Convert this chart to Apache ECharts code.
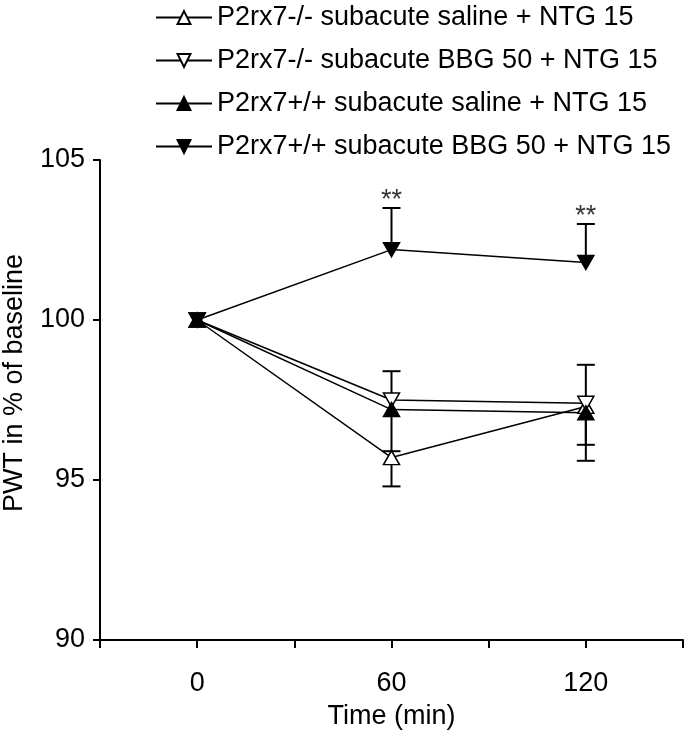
<!DOCTYPE html>
<html>
<head>
<meta charset="utf-8">
<script src="https://cdn.jsdelivr.net/npm/echarts@6/dist/echarts.min.js"></script>
<style>
html,body{margin:0;padding:0;background:#fff;}
#chart{width:685px;height:736px;}
</style>
</head>
<body>
<div id="chart"></div>
<script>
// ---- data ----
const times = [0, 60, 120];
const xLabelValues = [0, 60, 120];
const seriesNames = [
  'P2rx7-/- subacute saline + NTG 15',
  'P2rx7-/- subacute BBG 50 + NTG 15',
  'P2rx7+/+ subacute saline + NTG 15',
  'P2rx7+/+ subacute BBG 50 + NTG 15'
];
const koSaline = [100, 95.7, 97.3];
const koBBG = [100, 97.5, 97.4];
const wtSaline = [100, 97.2, 97.1];
const wtBBG = [100, 102.2, 101.8];
// signed SEM: positive = bar drawn upward, negative = downward
const koSalineErr = [0, -0.9, -1.7];
const koBBGErr = [0, 0.9, 1.2];
const wtSalineErr = [0, -1.3, -1.0];
const wtBBGErr = [0, 1.3, 1.2];
const sigTimes = [60, 120];
const sigLabels = ['**', '**'];

const FONT = 'Liberation Sans, Arial, sans-serif';
const values = [koSaline, koBBG, wtSaline, wtBBG];
const errs = [koSalineErr, koBBGErr, wtSalineErr, wtBBGErr];
const upTri = 'triangle';
const downTri = 'path://M0,0 L10,0 L5,9 Z';
const symbols = [upTri, downTri, upTri, downTri];
const fills = ['#ffffff', '#ffffff', '#000000', '#000000'];

const chart = echarts.init(document.getElementById('chart'));

const series = [];
// error bars
values.forEach((vals, i) => {
  const data = times.map((t, k) => [t, vals[k], vals[k] + errs[i][k]]).filter((d, k) => errs[i][k] !== 0);
  series.push({
    type: 'custom',
    z: 1,
    silent: true,
    data: data,
    renderItem: function (params, api) {
      const p0 = api.coord([api.value(0), api.value(1)]);
      const p1 = api.coord([api.value(0), api.value(2)]);
      const hw = 9;
      return {
        type: 'group',
        children: [
          {type: 'line', shape: {x1: p0[0], y1: p0[1], x2: p1[0], y2: p1[1]}, style: {stroke: '#000', lineWidth: 2}},
          {type: 'line', shape: {x1: p1[0] - hw, y1: p1[1], x2: p1[0] + hw, y2: p1[1]}, style: {stroke: '#000', lineWidth: 2}}
        ]
      };
    }
  });
});
// lines
values.forEach((vals, i) => {
  series.push({
    name: seriesNames[i],
    type: 'line',
    z: 3,
    data: times.map((t, k) => [t, vals[k]]),
    symbol: symbols[i],
    symbolSize: [16, 14],
    showAllSymbol: true,
    lineStyle: {color: '#000', width: 1.5},
    itemStyle: {color: fills[i], borderColor: '#000', borderWidth: 1.5},
    emphasis: {disabled: true},
    animation: false
  });
});
// significance asterisks
series.push({
  type: 'scatter',
  symbolSize: 0,
  z: 5,
  data: sigTimes.map((t, k) => {
    const top = wtBBG[times.indexOf(t)] + wtBBGErr[times.indexOf(t)];
    return {value: [t, top], label: {formatter: sigLabels[k]}};
  }),
  label: {show: true, position: 'top', distance: -6, color: '#000', fontSize: 27, fontFamily: FONT},
  animation: false
});

chart.setOption({
  animation: false,
  backgroundColor: '#fff',
  textStyle: {fontFamily: FONT, color: '#000'},
  legend: {
    data: seriesNames,
    orient: 'vertical',
    left: 150,
    top: -2,
    itemWidth: 56,
    itemHeight: 16,
    itemGap: 14,
    selectedMode: false,
    textStyle: {fontSize: 27, lineHeight: 29, color: '#000', fontFamily: FONT, padding: [0, 0, 0, 0]}
  },
  grid: {left: 100, right: 2, top: 160, bottom: 96, containLabel: false, outerBoundsMode: 'none'},
  xAxis: {
    type: 'value',
    min: -30,
    max: 150,
    interval: 30,
    name: 'Time (min)',
    nameLocation: 'middle',
    nameGap: 63,
    nameTextStyle: {fontSize: 27, color: '#000', fontFamily: FONT},
    axisLine: {onZero: false, lineStyle: {color: '#000', width: 2}},
    axisTick: {show: true, length: 8, lineStyle: {color: '#000', width: 2}},
    axisLabel: {
      fontSize: 27, color: '#000', fontFamily: FONT, margin: 30,
      formatter: v => xLabelValues.indexOf(v) >= 0 ? String(v) : ''
    },
    splitLine: {show: false}
  },
  yAxis: {
    type: 'value',
    min: 90,
    max: 105,
    interval: 5,
    name: 'PWT in % of baseline',
    nameLocation: 'middle',
    nameRotate: 90,
    nameGap: 72,
    nameTextStyle: {fontSize: 27, color: '#000', fontFamily: FONT, padding: [0, 0, 0, 34]},
    axisLine: {show: true, onZero: false, lineStyle: {color: '#000', width: 2}},
    axisTick: {show: true, length: 7, lineStyle: {color: '#000', width: 2}},
    axisLabel: {fontSize: 27, color: '#000', fontFamily: FONT, margin: 15},
    splitLine: {show: false}
  },
  series: series
});
</script>
</body>
</html>
